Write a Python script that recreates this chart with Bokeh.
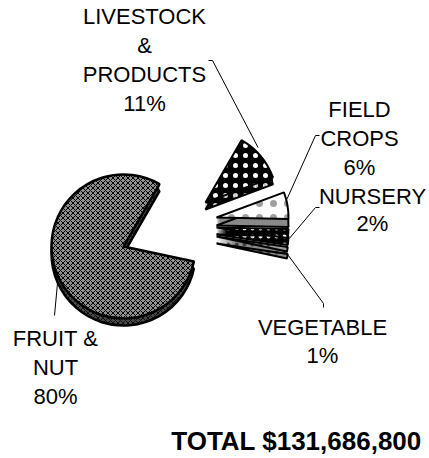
import numpy as np
from bokeh.plotting import figure
from bokeh.models import Range1d, ColumnDataSource
from bokeh.core.properties import value
from bokeh.embed import file_html
from bokeh.resources import INLINE

# ---- data ----
categories = ["LIVESTOCK\n&\nPRODUCTS", "FIELD\nCROPS", "NURSERY", "VEGETABLE", "FRUIT &\nNUT"]
shares = [11, 6, 2, 1, 80]
total_label = "TOTAL $131,686,800"

# ---- layout / style ----
W, H = 429, 458
def px(X, Y):
    return X, H - Y

start_deg = 60
radius = 72
vertex_px = [(205, 202), (216, 217), (216, 227), (216, 236), (123, 246)]
thickness = [7, 8, 7, 7, 7]
top_fill = ["black", "white", "black", "#9a9a9a", "#8e8e8e"]
hatch = ["dot", "dot", "dot", "dot", "diagonal_cross"]
hatch_color = ["white", "#a0a0a0", "white", "#303030", "black"]
hatch_scale = [10, 14, 8, 8, 5]
side_fill = ["black", "#8a8a8a", "black", "#8a8a8a", "#4a4a4a"]
side_hatch = ["dot", " ", "dot", "dot", "diagonal_cross"]
outline_w = [2, 2, 2, 2, 2.5]
anchor_frac = [0.35, 0.26, 0.5, 0.5, 0.5]
anchor_drop = [0, 0, 5, 6, 5]
anchor_out = [4, 1, 1, 1, 0]
bend_px = [[(208, 60), (212, 60)], [(319, 135), (315, 135)], [(319, 207), (315, 207)],
           [(323, 307), (323, 303)], [(54, 315)]]
label_px = [(144, 16), (359, 109), (372, 196), (322, 327), (55, 338)]
label_step = [29, 29, 27, 28, 29]
font = value("Liberation Sans")

p = figure(width=W, height=H, x_range=Range1d(0, W), y_range=Range1d(0, H),
           output_backend="svg", toolbar_location=None, min_border=0,
           x_axis_location=None, y_axis_location=None)
p.grid.visible = False
p.outline_line_color = None
p.background_fill_color = "white"

fr = np.array(shares, dtype=float) / sum(shares)
a_end = np.deg2rad(start_deg) - 2 * np.pi * np.cumsum(fr)
a_start = a_end + 2 * np.pi * fr

for i in range(len(shares)):
    vx, vy = px(*vertex_px[i])
    t = thickness[i]
    ks = np.arange(t, 0, -1)
    side = ColumnDataSource(dict(x=[vx] * len(ks), y=list(vy - ks)))
    p.wedge(x="x", y="y", radius=radius, start_angle=a_end[i], end_angle=a_start[i],
            source=side, fill_color=side_fill[i], hatch_pattern=side_hatch[i],
            hatch_color=hatch_color[i], hatch_scale=hatch_scale[i], hatch_weight=1,
            line_color=None)
    p.wedge(x=[vx], y=[vy - t], radius=radius, start_angle=a_end[i], end_angle=a_start[i],
            fill_color=None, line_color="black", line_width=outline_w[i])
    p.wedge(x=[vx], y=[vy], radius=radius, start_angle=a_end[i], end_angle=a_start[i],
            fill_color=top_fill[i], hatch_pattern=hatch[i], hatch_color=hatch_color[i],
            hatch_scale=hatch_scale[i], hatch_weight=1, line_color="black",
            line_width=outline_w[i])

# leader lines
for i in range(len(shares)):
    vx, vy = px(*vertex_px[i])
    a = a_start[i] - anchor_frac[i] * (a_start[i] - a_end[i])
    r = radius + anchor_out[i]
    ax, ay = vx + r * np.cos(a), vy + r * np.sin(a) - anchor_drop[i]
    pts = [px(*b) for b in bend_px[i]] + [(ax, ay)]
    p.line(x=[q[0] for q in pts], y=[q[1] for q in pts], line_color="black", line_width=1)

# labels
tx, ty, tt = [], [], []
for i, cat in enumerate(categories):
    lines = cat.split("\n") + [f"{shares[i]}%"]
    X, Y = label_px[i]
    for j, ln in enumerate(lines):
        x, y = px(X, Y + j * label_step[i])
        tx.append(x); ty.append(y); tt.append(ln)
p.text(x=tx, y=ty, text=tt, text_font=font, text_font_size="22px",
       text_align="center", text_baseline="middle", text_color="black")

x, y = px(296, 440)
p.text(x=[x], y=[y], text=[total_label], text_font=font, text_font_size="26px",
       text_font_style="bold", text_align="center", text_baseline="middle", text_color="black")

open("out.html", "w").write(file_html(p, INLINE))
